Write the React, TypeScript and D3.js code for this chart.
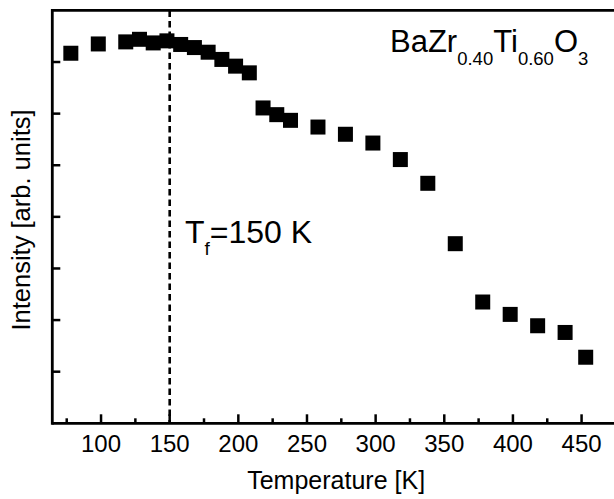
import React from "react";
import * as d3 from "d3";

const temperatures = [78, 98, 118, 128, 138, 148, 158, 168, 178, 188, 198, 208, 218, 228, 238, 258, 278, 298, 318, 338, 358, 378, 398, 418, 438, 453];
const intensities = [7.17, 7.35, 7.39, 7.44, 7.37, 7.41, 7.34, 7.28, 7.19, 7.05, 6.92, 6.79, 6.11, 5.98, 5.87, 5.74, 5.6, 5.43, 5.11, 4.65, 3.48, 2.35, 2.11, 1.89, 1.76, 1.28];
const xMajorTicks = [100, 150, 200, 250, 300, 350, 400, 450];
const xMinorTicks = [75, 125, 175, 225, 275, 325, 375, 425];
const yTicks = [1, 2, 3, 4, 5, 6, 7];
const freezingT = 150;

const W = 614;
const H = 499;
const FONT = "'Liberation Sans', Arial, Helvetica, sans-serif";

export default function App() {
  const x = d3.scaleLinear().domain([64.5, 475]).range([52.3, 615.9]);
  const y = d3.scaleLinear().domain([0, 8]).range([423.3, 10.4]);
  const x0 = x.range()[0];
  const x1 = x.range()[1];
  const y0 = y.range()[0];
  const y1 = y.range()[1];
  const sq = 15;
  const data = temperatures.map((t, i) => ({ t, v: intensities[i] }));

  return (
    <div style={{ position: "fixed", left: 0, top: 0 }}>
      <svg width={W} height={H} style={{ display: "block", background: "#fff" }}>
        <rect x={0} y={0} width={W} height={H} fill="#fff" />
        {/* dashed line */}
        <line x1={x(freezingT)} x2={x(freezingT)} y1={y1} y2={y0} stroke="#000" strokeWidth={2.6} strokeDasharray="6.5,4" />
        {/* points */}
        {data.map((d, i) => (
          <rect key={i} x={x(d.t) - sq / 2} y={y(d.v) - sq / 2} width={sq} height={sq} fill="#000" />
        ))}
        {/* axes frame */}
        <line x1={x0} x2={x1} y1={y0} y2={y0} stroke="#000" strokeWidth={2.8} />
        <line x1={x0} x2={x1} y1={y1} y2={y1} stroke="#000" strokeWidth={2.8} />
        <line x1={x0} x2={x0} y1={y1 - 1.4} y2={y0 + 1.4} stroke="#000" strokeWidth={2.8} />
        {/* x ticks */}
        {xMajorTicks.map((t) => (
          <g key={"M" + t}>
            <line x1={x(t)} x2={x(t)} y1={y0} y2={y0 - 9} stroke="#000" strokeWidth={2.5} />
            <text x={x(t)} y={452} textAnchor="middle" fontSize={24} fontFamily={FONT} fill="#000">{t}</text>
          </g>
        ))}
        {xMinorTicks.map((t) => (
          <line key={"m" + t} x1={x(t)} x2={x(t)} y1={y0} y2={y0 - 5} stroke="#000" strokeWidth={2.5} />
        ))}
        {/* y ticks */}
        {yTicks.map((v) => (
          <line key={"y" + v} x1={x0} x2={x0 + 8} y1={y(v)} y2={y(v)} stroke="#000" strokeWidth={2.5} />
        ))}
        {/* axis titles */}
        <text x={(x0 + 614) / 2 + 3} y={489} textAnchor="middle" fontSize={25} fontFamily={FONT} fill="#000">Temperature [K]</text>
        <text transform="translate(30,220) rotate(-90)" textAnchor="middle" fontSize={25.5} fontFamily={FONT} fill="#000">Intensity [arb. units]</text>
        {/* annotations */}
        <text x={185} y={243} fontSize={32} fontFamily={FONT} fill="#000">
          T<tspan fontSize={19} dy={12}>f</tspan><tspan dy={-12}>=150 K</tspan>
        </text>
        <text x={390} y={52} fontSize={31} fontFamily={FONT} fill="#000">
          BaZr<tspan fontSize={18.5} dy={13}>0.40</tspan><tspan dy={-13}>Ti</tspan><tspan fontSize={18.5} dy={13}>0.60</tspan><tspan dy={-13}>O</tspan><tspan fontSize={18.5} dy={13}>3</tspan>
        </text>
      </svg>
    </div>
  );
}
